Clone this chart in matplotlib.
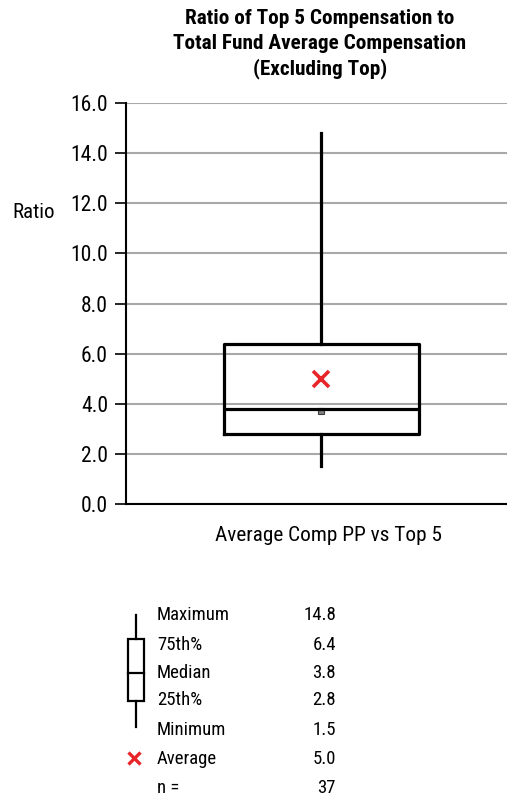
import matplotlib
matplotlib.use("Agg")
import matplotlib.pyplot as plt
from matplotlib.patches import Rectangle
from matplotlib.lines import Line2D

plt.rcParams["font.family"] = ["Roboto Condensed", "Liberation Sans Narrow", "Roboto", "DejaVu Sans"]

# summary stats
title_lines = ["Ratio of Top 5 Compensation to",
               "Total Fund Average Compensation",
               "(Excluding Top)"]
category = "Average Comp PP vs Top 5"
stat_names = ["Maximum", "75th%", "Median", "25th%", "Minimum"]
stat_values = [14.8, 6.4, 3.8, 2.8, 1.5]
average = 5.0
n_count = 37
marker_value = 3.7  # small gray marker just under the median
y_ticks = [0, 2, 4, 6, 8, 10, 12, 14, 16]

W, H = 507, 799
fig = plt.figure(figsize=(W / 100, H / 100), dpi=100)

ax = fig.add_axes([126 / W, 1 - 504 / H, 1 - 126 / W, (504 - 103) / H])
stats = [{
    "whishi": stat_values[0],
    "q3": stat_values[1],
    "med": stat_values[2],
    "q1": stat_values[3],
    "whislo": stat_values[4],
}]
line = dict(color="black", linewidth=2.3)
ax.bxp(stats, positions=[0], widths=0.512, showfliers=False, showcaps=False,
       boxprops=line, whiskerprops=line, medianprops=line, zorder=3)
ax.plot([0], [marker_value], marker="s", markersize=5, color="#808080",
        markeredgecolor="#404040", markeredgewidth=0.8, zorder=2)
ax.plot([0], [average], marker="x", markersize=11, markeredgewidth=2.6,
        color="#e8262a", linestyle="none", zorder=4)

ax.set_xlim(-0.512, 0.488)
ax.set_ylim(0, 16)
ax.set_yticks(y_ticks)
ax.set_yticklabels([f"{v:.1f}" for v in y_ticks], fontsize=15.5)
ax.set_xticks([0.02])
ax.set_xticklabels([category], fontsize=15.3)
ax.tick_params(axis="x", length=0, pad=16)
ax.tick_params(axis="y", length=8, width=1.2, pad=5)
ax.yaxis.grid(True, color="#a8a8a8", linewidth=1.5)
ax.set_axisbelow(True)
for s in ["top", "right"]:
    ax.spines[s].set_visible(False)
ax.spines["left"].set_linewidth(1.5)
ax.spines["bottom"].set_linewidth(1.5)

fig.text(12 / W, 1 - 212 / H, "Ratio", fontsize=15, va="center", ha="left")
for i, t in enumerate(title_lines):
    fig.text(320 / W, 1 - (24 + 25 * i) / H, t, ha="center", va="baseline",
             fontsize=15.3, fontweight="bold")

# legend key drawn in pixel space
lg = fig.add_axes([0, 0, 1, 1])
lg.set_xlim(0, W)
lg.set_ylim(H, 0)
lg.axis("off")
lg.add_line(Line2D([136, 136], [615, 639], color="black", lw=1.6))
lg.add_line(Line2D([136, 136], [701, 727], color="black", lw=1.6))
lg.add_patch(Rectangle((128, 639), 16, 62, fill=False, edgecolor="black", lw=1.6))
lg.add_line(Line2D([128, 144], [673, 673], color="black", lw=1.6))
lg.plot([134], [758], marker="x", markersize=9, markeredgewidth=2.4, color="#e8262a")

rows_y = [615, 645, 673, 700, 730, 759, 788]
labels = stat_names + ["Average", "n ="]
values = [f"{v:.1f}" for v in stat_values] + [f"{average:.1f}", f"{n_count}"]
for y, lab, val in zip(rows_y, labels, values):
    lg.text(157, y, lab, fontsize=13.5, va="center", ha="left")
    lg.text(336, y, val, fontsize=13.5, va="center", ha="right")

fig.savefig("out.png", dpi=100)
